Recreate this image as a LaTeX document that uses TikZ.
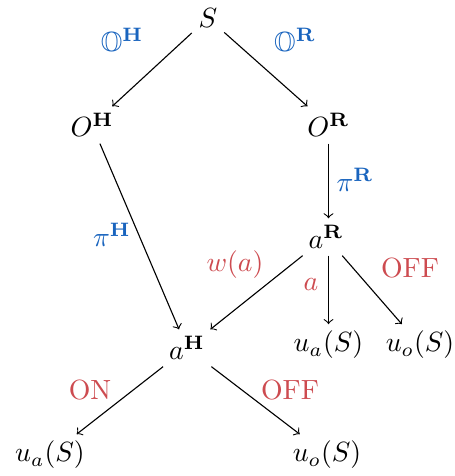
\documentclass[tikz,border=0pt]{standalone}
\usepackage{amssymb}
\definecolor{lblue}{RGB}{25,100,190}
\definecolor{lred}{RGB}{205,75,80}
\begin{document}
\begin{tikzpicture}[x=0.36pt,y=-0.36pt,
  st/.style={inner sep=2pt, outer sep=0.5pt},
  conn/.style={->, line width=0.4pt},
  bl/.style={text=lblue},
  rd/.style={text=lred}]
\useasboundingbox (0,0) rectangle (454,476);
\node[st] (S) at (208,18) {$S$};
\node[st] (OH) at (92,125) {$O^{\mathbf{H}}$};
\node[st] (OR) at (328.5,125) {$O^{\mathbf{R}}$};
\node[st] (aR) at (326,237) {$a^{\mathbf{R}}$};
\node[st] (aH) at (187,348) {$a^{\mathbf{H}}$};
\node[st] (ua1) at (328.5,345) {$u_a(S)$};
\node[st] (uo1) at (420,345) {$u_o(S)$};
\node[st] (ua2) at (50,455) {$u_a(S)$};
\node[st] (uo2) at (327,455) {$u_o(S)$};
\draw[conn] (S) -- (OH);
\draw[conn] (S) -- (OR);
\draw[conn] (OH) -- (aH);
\draw[conn] (OR.south) -- (OR.south |- aR.north);
\draw[conn] (aR) -- (aH);
\draw[conn] (aR.south -| ua1) -- (ua1.north);
\draw[conn] (aR) -- (uo1);
\draw[conn] (aH) -- (ua2);
\draw[conn] (aH) -- (uo2);
\node[bl] (l1) at (122,42) {$\mathbb{O}^{\mathbf{H}}$};
\node[bl] (l2) at (295,42) {$\mathbb{O}^{\mathbf{R}}$};
\node[bl] (l3) at (355,180) {$\pi^{\mathbf{R}}$};
\node[bl] (l4) at (112,235) {$\pi^{\mathbf{H}}$};
\node[rd] (l5) at (235,265) {$w(a)$};
\node[rd] (l6) at (311,285) {$a$};
\node[rd] (l7) at (410,268) {OFF};
\node[rd] (l8) at (90,390) {ON};
\node[rd] (l9) at (290,390) {OFF};
\end{tikzpicture}
\end{document}
